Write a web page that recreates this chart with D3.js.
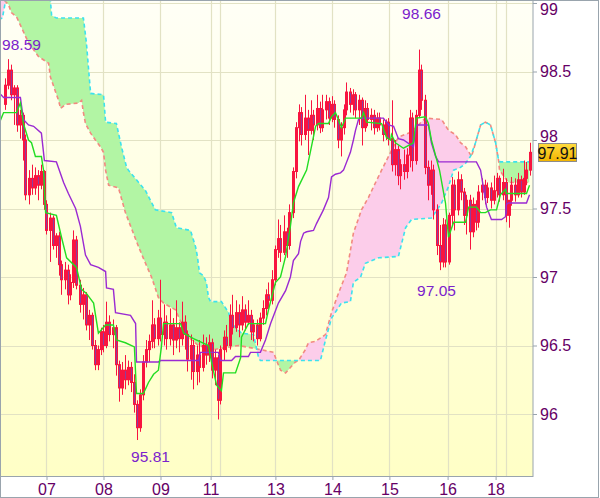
<!DOCTYPE html>
<html><head><meta charset="utf-8">
<script src="https://cdnjs.cloudflare.com/ajax/libs/d3/7.8.5/d3.min.js"></script>
<style>html,body{margin:0;padding:0;background:#fff;overflow:hidden}</style>
</head><body>
<svg id="c" width="600" height="498"></svg>
<script>
// ---- OHLC candles (hourly), index 0..175 ----
const open=[98.26,98.40,98.51,98.33,98.38,98.11,98.18,98.00,97.60,97.72,
97.65,97.74,97.67,97.77,97.53,97.34,97.43,97.23,97.30,97.09,
96.98,97.05,96.87,96.96,97.27,96.94,96.80,96.87,96.65,96.72,
96.50,96.36,96.47,96.60,96.50,96.67,96.58,96.63,96.36,96.19,
96.32,96.25,96.34,96.23,96.07,95.90,96.14,96.38,96.47,96.53,
96.65,96.55,96.70,96.58,96.67,96.55,96.65,96.54,96.63,96.55,
96.67,96.58,96.40,96.50,96.31,96.43,96.34,96.50,96.43,96.52,
96.32,96.41,96.10,96.47,96.56,96.50,96.72,96.63,96.74,96.65,
96.76,96.67,96.72,96.60,96.65,96.55,96.70,96.77,96.87,96.83,
96.98,97.20,97.28,97.18,97.33,97.23,97.47,97.77,98.09,98.20,
98.04,98.16,98.07,98.18,98.11,98.23,98.09,98.22,98.28,98.16,
98.26,98.15,98.00,98.09,98.22,98.35,98.26,98.33,98.22,98.29,
98.09,98.23,98.15,98.18,98.09,98.16,98.11,98.04,98.13,98.01,
97.82,97.93,97.74,97.82,97.77,97.89,98.16,97.85,98.18,98.51,
98.29,97.80,97.67,97.78,97.49,97.23,97.11,97.38,97.11,97.45,
97.67,97.49,97.71,97.62,97.45,97.56,97.33,97.53,97.40,97.62,
97.67,97.58,97.65,97.56,97.63,97.72,97.60,97.69,97.45,97.56,
97.67,97.60,97.71,97.62,97.72,97.78];
const high=[98.45,98.59,98.55,98.40,98.40,98.22,98.20,98.04,97.78,97.82,
97.80,97.78,97.82,97.78,97.56,97.47,97.45,97.32,97.33,97.12,
97.11,97.09,97.02,97.34,97.30,96.98,96.92,96.89,96.76,96.74,
96.54,96.50,96.63,96.65,96.82,96.72,96.69,96.65,96.39,96.38,
96.43,96.39,96.38,96.29,96.10,96.18,96.43,96.54,96.58,96.83,
96.70,96.76,96.98,96.80,96.72,96.77,96.70,96.83,96.67,96.82,
96.72,96.61,96.58,96.54,96.50,96.54,96.58,96.56,96.58,96.55,
96.47,96.43,96.50,96.61,96.65,96.80,96.87,96.83,96.80,96.86,
96.80,96.83,96.76,96.69,96.69,96.74,96.83,96.91,96.96,97.05,
97.23,97.42,97.38,97.45,97.36,97.53,97.80,98.13,98.26,98.24,
98.33,98.22,98.29,98.22,98.33,98.28,98.33,98.33,98.31,98.32,
98.29,98.18,98.13,98.26,98.42,98.38,98.37,98.35,98.33,98.31,
98.29,98.27,98.23,98.22,98.20,98.20,98.15,98.15,98.16,98.29,
98.00,97.96,97.86,97.93,97.94,98.22,98.20,98.22,98.66,98.55,
98.33,97.85,97.85,97.82,97.53,97.38,97.43,97.42,97.47,97.73,
97.71,97.77,97.75,97.65,97.60,97.60,97.58,97.56,97.67,97.72,
97.71,97.69,97.69,97.74,97.76,97.74,97.79,97.72,97.56,97.73,
97.72,97.76,97.74,97.85,97.84,97.98];
const low=[98.22,98.37,98.29,98.11,98.06,98.01,97.85,97.56,97.53,97.60,
97.60,97.56,97.64,97.49,97.31,97.11,97.20,97.14,97.01,96.87,
96.91,96.80,96.83,96.92,96.91,96.74,96.69,96.61,96.54,96.47,
96.32,96.32,96.43,96.45,96.48,96.53,96.48,96.28,96.09,96.14,
96.18,96.21,96.16,96.01,95.81,95.87,96.10,96.34,96.38,96.48,
96.48,96.50,96.53,96.50,96.47,96.50,96.43,96.48,96.45,96.50,
96.47,96.31,96.25,96.18,96.21,96.23,96.31,96.36,96.38,96.26,
96.21,95.96,96.07,96.39,96.45,96.47,96.58,96.60,96.56,96.61,
96.61,96.65,96.54,96.53,96.50,96.53,96.65,96.72,96.77,96.80,
96.94,97.14,97.11,97.16,97.14,97.20,97.43,97.72,97.99,97.96,
98.00,97.89,98.04,98.00,98.07,98.05,98.06,98.15,98.11,98.13,
98.09,97.94,97.88,98.04,98.18,98.20,98.18,98.16,98.11,97.96,
98.06,98.10,98.07,98.04,98.06,98.07,97.99,98.00,97.96,97.77,
97.74,97.67,97.64,97.71,97.72,97.80,97.77,97.82,98.16,98.22,
97.75,97.56,97.60,97.42,97.16,97.05,97.07,97.07,97.09,97.38,
97.34,97.45,97.56,97.38,97.31,97.20,97.29,97.34,97.36,97.56,
97.53,97.54,97.50,97.53,97.58,97.55,97.56,97.40,97.36,97.52,
97.55,97.58,97.58,97.60,97.67,97.74];
const close=[98.40,98.51,98.33,98.38,98.11,98.18,98.00,97.60,97.72,97.65,
97.74,97.67,97.77,97.53,97.34,97.43,97.23,97.30,97.09,96.98,
97.05,96.87,96.96,97.27,96.94,96.80,96.87,96.65,96.72,96.50,
96.36,96.47,96.60,96.50,96.67,96.58,96.63,96.36,96.19,96.32,
96.25,96.34,96.23,96.07,95.90,96.14,96.38,96.47,96.53,96.65,
96.55,96.70,96.58,96.67,96.55,96.65,96.54,96.63,96.55,96.67,
96.58,96.40,96.50,96.31,96.43,96.34,96.50,96.43,96.52,96.32,
96.41,96.10,96.47,96.56,96.50,96.72,96.63,96.74,96.65,96.76,
96.67,96.72,96.60,96.65,96.55,96.70,96.77,96.87,96.83,96.98,
97.20,97.28,97.18,97.33,97.23,97.47,97.77,98.09,98.20,98.04,
98.16,98.07,98.18,98.11,98.23,98.09,98.22,98.28,98.16,98.26,
98.15,98.00,98.09,98.22,98.35,98.26,98.33,98.22,98.29,98.09,
98.23,98.15,98.18,98.09,98.16,98.11,98.04,98.13,98.01,97.82,
97.93,97.74,97.82,97.77,97.89,98.16,97.85,98.18,98.51,98.29,
97.80,97.67,97.78,97.49,97.23,97.11,97.38,97.11,97.45,97.67,
97.49,97.71,97.62,97.45,97.56,97.33,97.53,97.40,97.62,97.67,
97.58,97.65,97.56,97.63,97.72,97.60,97.69,97.45,97.56,97.67,
97.60,97.71,97.62,97.72,97.78,97.91];

// ---- Ichimoku lines: [candle index, value] vertices ----
const tenkan=[[-1.5,98.11],[0.2,98.20],[4.5,98.20],[5.8,98.27],[6.8,98.12],[8.5,98.00],[9.5,97.98],[10.8,97.88],[12.8,97.88],[13.5,97.78],[14.2,97.47],[17.8,97.45],[19.5,97.29],[21.2,97.14],[24.5,97.07],[26.2,96.91],[27.8,96.88],[30.2,96.81],[31.8,96.59],[34.2,96.65],[36.8,96.65],[37.8,96.54],[40.8,96.52],[43.8,96.49],[44.5,96.15],[46.8,96.15],[48.5,96.23],[50.2,96.29],[51.8,96.32],[52.8,96.49],[53.5,96.66],[59.2,96.66],[60.2,96.59],[63.5,96.55],[68.5,96.50],[69.5,96.38],[71.2,96.21],[72.8,96.17],[73.5,96.30],[77.5,96.30],[79.2,96.41],[79.5,96.56],[81.8,96.66],[87.5,96.66],[88.5,96.76],[90.8,96.96],[92.5,97.00],[94.2,97.15],[95.8,97.37],[96.8,97.54],[98.5,97.66],[101.2,97.78],[102.8,97.95],[104.2,98.10],[105.2,98.12],[108.5,98.12],[109.5,98.17],[110.8,98.20],[111.8,98.15],[112.8,98.09],[114.2,98.16],[119.5,98.16],[120.2,98.20],[121.2,98.13],[126.2,98.12],[127.8,98.02],[129.2,98.00],[129.5,98.04],[130.8,97.98],[133.5,97.94],[136.8,97.98],[137.8,98.16],[140.8,98.17],[141.8,98.12],[142.8,98.00],[145.5,97.78],[147.5,97.54],[148.5,97.29],[150.2,97.40],[154.2,97.40],[155.2,97.51],[157.8,97.51],[159.2,97.47],[160.8,97.47],[162.5,97.49],[164.5,97.49],[165.8,97.60],[167.5,97.64],[167.8,97.61],[174.5,97.61],[175.5,97.67]];
const kijun=[[-1.5,98.35],[0.2,98.31],[5.8,98.31],[6.8,98.15],[8.5,98.11],[10.2,98.10],[12.8,98.05],[13.8,97.85],[17.8,97.84],[20.2,97.69],[21.8,97.61],[24.2,97.50],[25.8,97.37],[27.5,97.16],[29.2,97.09],[31.8,97.07],[34.2,97.04],[34.5,96.92],[36.8,96.91],[37.5,96.74],[42.5,96.72],[44.2,96.66],[44.5,96.38],[51.8,96.38],[52.5,96.39],[65.2,96.39],[65.8,96.45],[71.8,96.45],[72.5,96.39],[76.2,96.39],[77.5,96.42],[81.8,96.42],[82.5,96.45],[85.8,96.45],[87.5,96.54],[89.2,96.66],[91.8,96.81],[94.2,96.90],[95.8,97.00],[96.8,97.12],[98.5,97.17],[99.2,97.26],[100.2,97.32],[101.2,97.33],[103.5,97.34],[104.5,97.39],[106.8,97.49],[108.5,97.58],[109.5,97.73],[110.8,97.75],[112.5,97.76],[113.5,97.78],[115.8,97.91],[116.8,98.00],[117.5,98.07],[118.5,98.15],[119.2,98.16],[126.8,98.16],[128.5,98.11],[130.2,98.10],[131.8,98.01],[133.5,98.00],[136.8,97.95],[137.8,98.11],[141.8,98.11],[142.8,97.98],[144.2,97.88],[145.2,97.84],[157.8,97.84],[159.2,97.78],[161.2,97.51],[162.8,97.42],[166.2,97.42],[167.5,97.44],[167.8,97.53],[168.5,97.54],[174.5,97.54],[175.5,97.60]];
const senkouA=[[-1.5,98.88],[-0.2,98.89],[0.8,99.01],[1.5,99.13],[15.2,99.13],[15.8,99.02],[16.2,98.91],[17.8,98.89],[26.8,98.89],[27.8,98.71],[29.2,98.34],[33.5,98.33],[34.2,98.13],[37.8,98.12],[39.5,97.95],[41.2,97.80],[41.8,97.78],[47.5,97.63],[50.8,97.49],[56.2,97.47],[57.8,97.36],[62.5,97.34],[64.2,97.22],[64.8,97.15],[65.5,97.03],[66.8,97.01],[67.8,96.96],[68.5,96.85],[69.2,96.82],[72.8,96.82],[75.2,96.74],[76.2,96.66],[79.5,96.59],[83.5,96.58],[85.2,96.41],[85.8,96.39],[105.8,96.39],[107.5,96.54],[109.5,96.70],[112.8,96.81],[115.8,96.82],[116.8,96.96],[119.2,97.00],[120.8,97.10],[125.2,97.14],[131.8,97.15],[134.2,97.36],[136.2,97.42],[142.8,97.43],[146.2,97.54],[148.5,97.66],[150.2,97.78],[152.5,97.80],[154.2,97.83],[155.8,97.88],[157.5,97.98],[159.2,98.11],[160.8,98.13],[162.5,98.11],[164.2,97.98],[165.2,97.85],[165.8,97.84],[175.5,97.84]];
const senkouB=[[-1.5,99.11],[0.8,99.01],[1.8,98.99],[2.8,98.93],[4.5,98.90],[8.5,98.71],[11.8,98.61],[15.2,98.56],[15.8,98.46],[18.5,98.29],[19.2,98.23],[20.8,98.26],[25.2,98.27],[26.2,98.29],[26.8,98.20],[27.5,98.12],[29.2,98.05],[30.8,98.00],[32.5,97.95],[33.5,97.91],[34.2,97.78],[35.2,97.67],[38.5,97.65],[40.8,97.47],[45.2,97.22],[47.5,97.10],[49.5,97.00],[51.8,96.85],[53.5,96.81],[57.5,96.76],[59.5,96.66],[60.8,96.61],[62.8,96.54],[65.2,96.50],[70.2,96.47],[78.5,96.50],[83.5,96.48],[85.8,96.47],[90.2,96.45],[91.2,96.39],[92.5,96.32],[94.2,96.30],[95.8,96.34],[97.5,96.38],[98.5,96.39],[100.8,96.47],[101.8,96.52],[104.2,96.53],[107.5,96.58],[109.5,96.74],[111.8,96.88],[114.5,97.03],[116.8,97.32],[119.5,97.49],[121.8,97.58],[124.2,97.69],[126.2,97.78],[129.2,97.91],[130.8,97.98],[131.8,98.02],[136.2,98.06],[140.8,98.16],[146.2,98.15],[148.5,98.07],[150.8,98.04],[152.5,97.98],[154.2,97.95],[156.2,97.88],[157.5,97.98],[159.2,98.11],[160.8,98.13],[162.5,98.11],[164.2,97.98],[165.2,97.85],[165.5,97.78],[167.8,97.71],[168.5,97.69],[175.5,97.69]];

// ---- axes ----
const yTicks=[96,96.5,97,97.5,98,98.5,99];
const dayPos=[14.5,33.5,52.5,69.2,90.8,109.8,128.8,148.2,164.2];
const dayLabels=["07","08","09","11","13","14","15","16","18"];
const extraDayPos=[72.5,167.5];
// ---- annotations ----
const markIdx=[1,138,145,44];
const markVal=[98.59,98.66,97.05,95.81];

const svg=d3.select("#c");
const L=1,R=533,T=1,B=476;
const x=d3.scaleLinear().domain([0,176]).range([3,531]);
const y=d3.scaleLinear().domain([96,98.5]).range([414,71.5]);

const defs=svg.append("defs");
const bg=defs.append("linearGradient").attr("id","bg").attr("x1",0).attr("y1",0).attr("x2",0).attr("y2",1);
bg.append("stop").attr("offset","0").attr("stop-color","#fffff6");
bg.append("stop").attr("offset","1").attr("stop-color","#ffffc6");
const gold=defs.append("linearGradient").attr("id","gold").attr("x1",0).attr("y1",0).attr("x2",0).attr("y2",1);
gold.append("stop").attr("offset","0").attr("stop-color","#ffdc40");
gold.append("stop").attr("offset","1").attr("stop-color","#f2b400");
defs.append("clipPath").attr("id","plot").append("rect").attr("x",L).attr("y",T).attr("width",R-L).attr("height",B-T);

const ln=d3.line().x(d=>x(d[0])).y(d=>y(d[1]));
const below=d3.area().x(d=>x(d[0])).y0(d=>y(d[1])).y1(B+100);
const above=d3.area().x(d=>x(d[0])).y0(d=>y(d[1])).y1(T-100);
defs.append("clipPath").attr("id","belowA").append("path").attr("d",below(senkouA));
defs.append("clipPath").attr("id","belowB").append("path").attr("d",below(senkouB));

svg.append("rect").attr("x",0).attr("y",0).attr("width",600).attr("height",498).attr("fill","#fff");
svg.append("rect").attr("x",L).attr("y",T).attr("width",R-L).attr("height",B-T).attr("fill","url(#bg)");

const pg=svg.append("g").attr("clip-path","url(#plot)");
// grid
pg.selectAll(".hg").data(yTicks).join("line").attr("x1",L).attr("x2",R)
  .attr("y1",d=>Math.round(y(d))+0.5).attr("y2",d=>Math.round(y(d))+0.5).attr("stroke","#e2e2c4").attr("stroke-width",1.2);
pg.selectAll(".vg").data(dayPos.concat(extraDayPos)).join("line").attr("y1",T).attr("y2",B)
  .attr("x1",d=>Math.round(x(d))+0.5).attr("x2",d=>Math.round(x(d))+0.5).attr("stroke","#e2e2c4").attr("stroke-width",1.2);

// cloud
pg.append("g").attr("clip-path","url(#belowA)").append("path").attr("d",above(senkouB)).attr("fill","#b2f5a4");
pg.append("g").attr("clip-path","url(#belowB)").append("path").attr("d",above(senkouA)).attr("fill","#fccdea");
pg.append("path").attr("d",ln(senkouB)).attr("fill","none").attr("stroke","#f28a80").attr("stroke-width",1.6).attr("stroke-dasharray","4,3");
pg.append("path").attr("d",ln(senkouA)).attr("fill","none").attr("stroke","#3ce2ee").attr("stroke-width",1.6).attr("stroke-dasharray","4,3");

// candles
const idx=d3.range(close.length);
const cg=pg.append("g");
cg.selectAll(".wk").data(idx).join("line")
  .attr("x1",i=>Math.round(x(i+0.5))+0.5).attr("x2",i=>Math.round(x(i+0.5))+0.5)
  .attr("y1",i=>y(high[i])).attr("y2",i=>y(low[i])).attr("stroke","#f8143f").attr("stroke-width",1);
cg.selectAll(".bd").data(idx).join("rect")
  .attr("x",i=>Math.round(x(i+0.5))-0.5).attr("width",2)
  .attr("y",i=>y(Math.max(open[i],close[i]))).attr("height",i=>Math.max(1,Math.abs(y(open[i])-y(close[i]))))
  .attr("fill",i=>close[i]<open[i]?"#8d3c9e":"none").attr("stroke","#f8143f").attr("stroke-width",1);

// tenkan / kijun
pg.append("path").attr("d",ln(kijun)).attr("fill","none").attr("stroke","#9a2ad2").attr("stroke-width",1.4);
pg.append("path").attr("d",ln(tenkan)).attr("fill","none").attr("stroke","#22dd22").attr("stroke-width",1.4);

// annotations
const dxs=[14,3,-3,14], dys=[-15,-36,20,16];
svg.selectAll(".ann").data(markVal).join("text")
  .attr("x",(d,i)=>x(markIdx[i]+0.5)+dxs[i]).attr("y",(d,i)=>y(d)+dys[i])
  .attr("text-anchor","middle").attr("dominant-baseline","central")
  .attr("font-family","Liberation Sans, Arial, sans-serif").attr("font-size",15.5)
  .attr("fill","#7b22cc").text(d=>d.toFixed(2));

// axes
const fam="Liberation Sans Narrow, Arial Narrow, Liberation Sans, sans-serif";
const ya=svg.append("g").attr("transform",`translate(${R},0)`)
  .call(d3.axisRight(y).tickValues(yTicks).tickSize(4).tickPadding(3).tickFormat(d=>String(d)));
ya.select(".domain").remove();
ya.selectAll("line").attr("stroke","#99a4ad");
ya.selectAll("text").attr("font-family",fam).attr("font-size",16).attr("fill","#660066");
ya.selectAll("text").filter(d=>d===99).attr("y",6);
ya.selectAll("text").filter(d=>d===98).attr("y",-4);
const xa=svg.append("g").attr("transform",`translate(0,${B})`)
  .call(d3.axisBottom(x).tickValues(dayPos).tickSize(4).tickPadding(4).tickFormat((d,i)=>dayLabels[i]));
xa.select(".domain").remove();
xa.selectAll("line").attr("stroke","#99a4ad");
xa.selectAll("text").attr("font-family",fam).attr("font-size",16).attr("fill","#660066");

// frames
svg.append("rect").attr("x",0.5).attr("y",0.5).attr("width",R-0.5).attr("height",B).attr("fill","none").attr("stroke","#99a4ad");
svg.append("rect").attr("x",0.5).attr("y",0.5).attr("width",598).attr("height",497).attr("fill","none").attr("stroke","#99a4ad");

// last price box
const lastV=close[close.length-1];
const by=y(lastV);
svg.append("rect").attr("x",538.5).attr("y",Math.round(by)-8.5).attr("width",38).attr("height",18)
  .attr("fill","url(#gold)").attr("stroke","#8c8c8c");
svg.append("text").attr("x",557.5).attr("y",Math.round(by)+1).attr("text-anchor","middle").attr("dominant-baseline","central")
  .attr("font-family",fam).attr("font-size",16).attr("fill","#111").text(lastV.toFixed(2));
</script>
</body></html>
